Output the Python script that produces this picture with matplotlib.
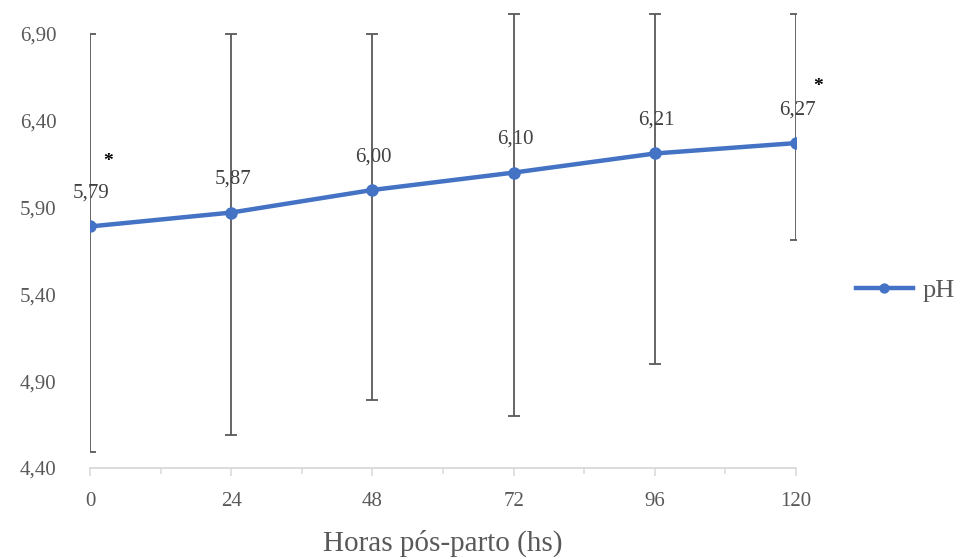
import numpy as np
import matplotlib
matplotlib.use('Agg')
import matplotlib.pyplot as plt
from matplotlib.ticker import MultipleLocator, FixedLocator, FuncFormatter

plt.rcParams['font.family'] = ['Liberation Serif', 'DejaVu Serif']

# values
hours = [0, 24, 48, 72, 96, 120]
ph_mean = [5.79, 5.87, 6.00, 6.10, 6.21, 6.27]
ph_low = [4.49, 4.59, 4.79, 4.70, 5.00, 5.71]
ph_high = [6.90, 6.90, 6.90, 7.01, 7.01, 7.01]
y_ticks = [4.40, 4.90, 5.40, 5.90, 6.40, 6.90]
star_idx = [0, 5]

blue = '#4472C4'
grey = '#595959'

fig = plt.figure(figsize=(9.63, 5.59), dpi=100)
ax = fig.add_axes([90 / 963, 1 - 468 / 559, 706 / 963, 457 / 559])

mean = np.array(ph_mean)
yerr = [mean - np.array(ph_low), np.array(ph_high) - mean]
ax.errorbar(hours, mean, yerr=yerr, fmt='none', ecolor=grey, elinewidth=1.3,
            capsize=4.5, capthick=1.3, zorder=2)
ax.plot(hours, mean, color=blue, lw=3.2, marker='o', ms=8, label='pH', zorder=3)

for x, y in zip(hours, ph_mean):
    ax.annotate(f'{y:.2f}'.replace('.', ','), (x, y), xytext=(1, 24),
                textcoords='offset points', ha='center', va='center',
                fontsize=15, color='#404040')

star_off = {0: (13, 47), 5: (16, 41)}
for i in star_idx:
    ax.annotate('*', (hours[i], ph_mean[i]), xytext=star_off[i],
                textcoords='offset points', ha='center', va='center',
                fontsize=14, fontweight='bold', color='black')

ax.set_xlim(0, 120)
ax.set_ylim(4.40, 7.03)
ax.xaxis.set_major_locator(MultipleLocator(24))
ax.xaxis.set_minor_locator(MultipleLocator(12))
ax.yaxis.set_major_locator(FixedLocator(y_ticks))
ax.yaxis.set_major_formatter(FuncFormatter(lambda v, p: f'{v:.2f}'.replace('.', ',')))

for s in ['top', 'right', 'left']:
    ax.spines[s].set_visible(False)
ax.spines['bottom'].set_color('#d9d9d9')
ax.spines['bottom'].set_linewidth(1.3)

ax.tick_params(axis='x', which='major', length=6, width=1.1, color='#d9d9d9',
               labelsize=15, labelcolor=grey, pad=11)
ax.tick_params(axis='x', which='minor', length=4.3, width=1.1, color='#d9d9d9')
ax.tick_params(axis='y', length=0, labelsize=15, labelcolor=grey, pad=24)

ax.set_xlabel('Horas pós-parto (hs)', fontsize=21, color=grey, labelpad=14)

ax.legend(loc='center left', bbox_to_anchor=(856 / 963, 1 - 290 / 559),
          bbox_transform=fig.transFigure, frameon=False, fontsize=19,
          borderpad=0, borderaxespad=0, markerscale=0.8,
          handlelength=2.15, handletextpad=0.38, labelcolor=grey)

plt.savefig('out.png', dpi=100)
